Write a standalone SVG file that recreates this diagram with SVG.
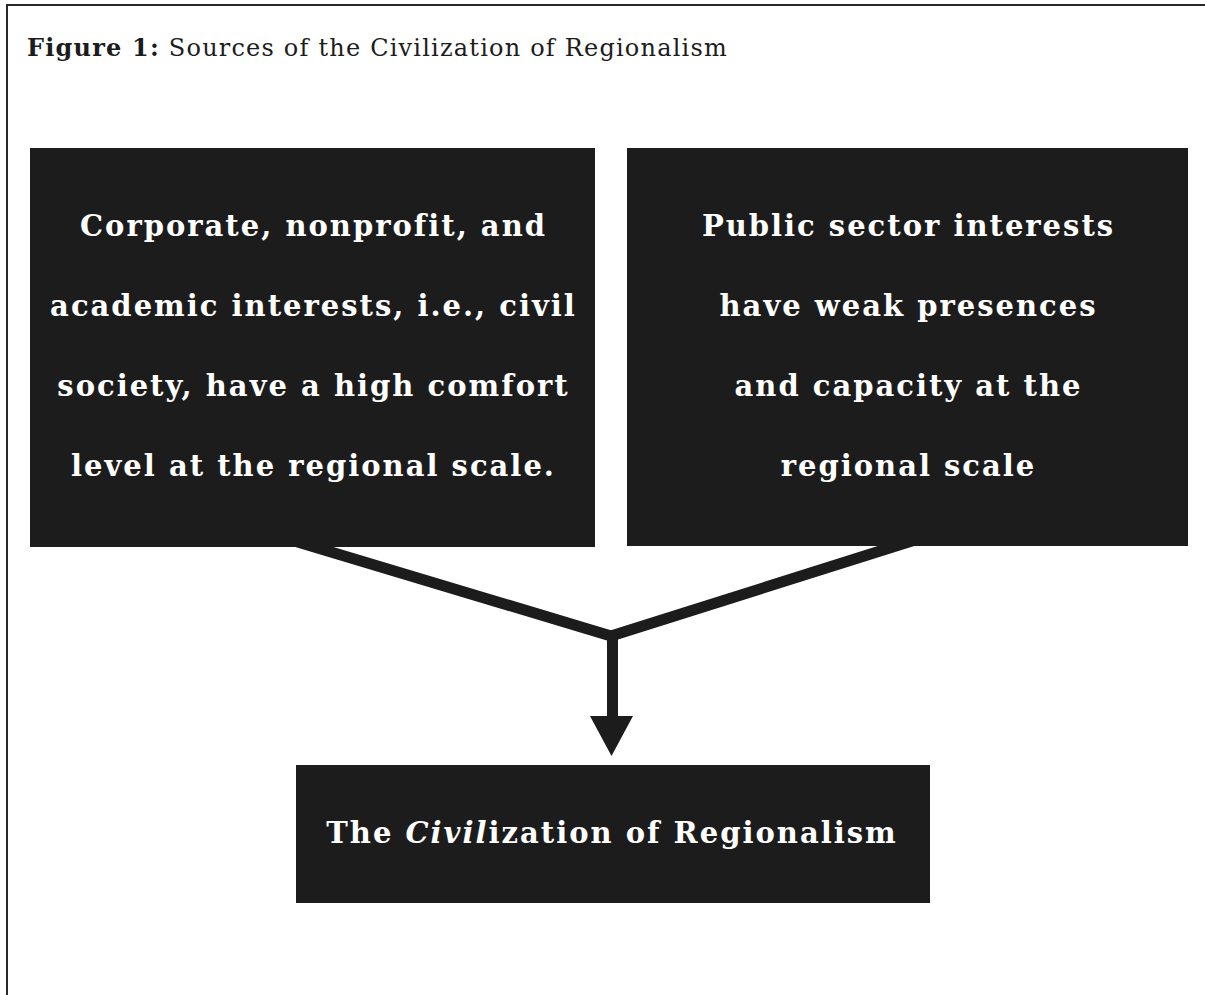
<svg xmlns="http://www.w3.org/2000/svg" width="1205" height="995" viewBox="0 0 1205 995">
  <defs>
    <style>
      .frame { stroke: #2a2a2a; stroke-width: 2; fill: none; }
      .box { fill: #1c1c1c; }
      .label { font-family: "DejaVu Serif", "Liberation Serif", serif; font-weight: bold; font-size: 29px; letter-spacing: 2px; fill: #ffffff; text-anchor: middle; }
      .title { font-family: "DejaVu Serif", "Liberation Serif", serif; font-size: 24px; letter-spacing: 1.2px; fill: #1c1c1c; }
      .link { stroke: #1c1c1c; stroke-width: 11; fill: none; stroke-linejoin: miter; }
    </style>
  </defs>
  <rect width="1205" height="995" fill="#ffffff"/>

  <!-- page frame: top rule and left rule -->
  <path class="frame" d="M7,995 V5 H1205"/>

  <!-- caption -->
  <text class="title" x="27" y="56"><tspan font-weight="bold">Figure 1:</tspan> Sources of the Civilization of Regionalism</text>

  <!-- connectors -->
  <g id="connectors">
    <polyline class="link" points="291,540 611,636 915,540"/>
    <line class="link" x1="612.5" y1="634" x2="612.5" y2="718"/>
    <polygon points="590,716 633,716 611.5,756" fill="#1c1c1c"/>
  </g>

  <g id="node-civil-society">
    <rect class="box" x="30" y="148" width="565" height="399"/>
    <text class="label" x="313.5" y="236">Corporate, nonprofit, and</text>
    <text class="label" x="313.5" y="316">academic interests, i.e., civil</text>
    <text class="label" x="313.5" y="396">society, have a high comfort</text>
    <text class="label" x="313.5" y="476">level at the regional scale.</text>
  </g>

  <g id="node-public-sector">
    <rect class="box" x="627" y="148" width="561" height="398"/>
    <text class="label" x="908.5" y="236">Public sector interests</text>
    <text class="label" x="908.5" y="316">have weak presences</text>
    <text class="label" x="908.5" y="396">and capacity at the</text>
    <text class="label" x="908.5" y="476">regional scale</text>
  </g>

  <g id="node-outcome">
    <rect class="box" x="296" y="765" width="634" height="138"/>
    <text class="label" x="612" y="843">The <tspan font-style="italic">Civil</tspan>ization of Regionalism</text>
  </g>
</svg>
